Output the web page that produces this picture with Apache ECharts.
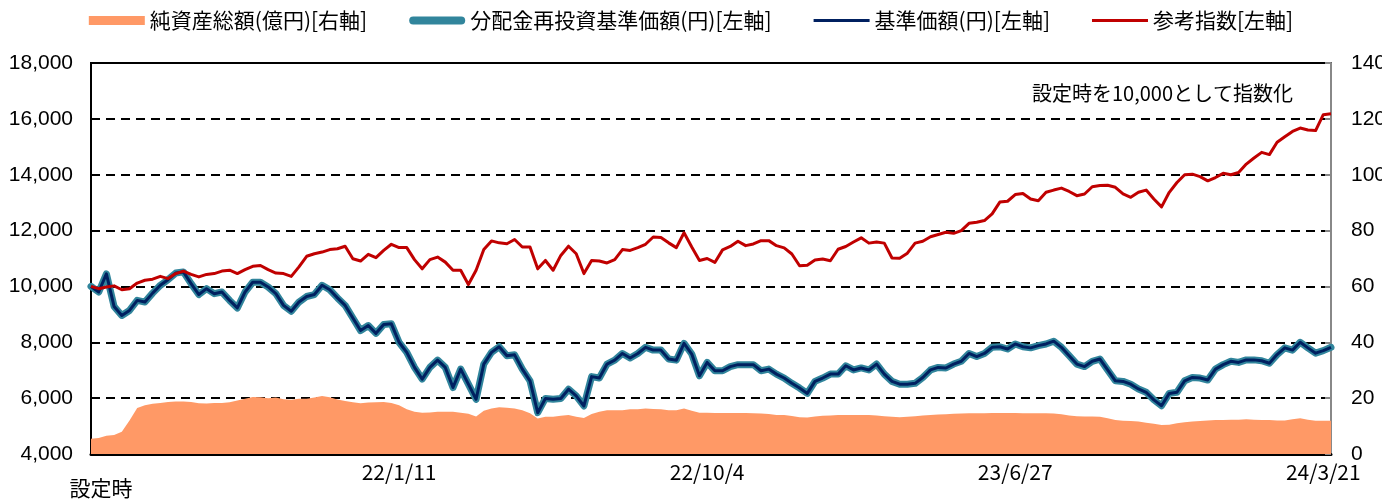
<!DOCTYPE html>
<html>
<head>
<meta charset="utf-8">
<script src="https://cdn.jsdelivr.net/npm/echarts@6/dist/echarts.min.js"></script>
<style>html,body{margin:0;padding:0;background:#fff}#c{width:1382px;height:500px}</style>
</head>
<body>
<div id="c"></div>
<script>
// --- data (weekly samples) ---
const tickIndex = [0, 40, 80, 120, 160];
const tickLabels = ['設定時', '22/1/11', '22/10/4', '23/6/27', '24/3/21'];

const navValues = [
10000,9800,10450,9280,8960,9140,9500,9440,9760,10040,
10240,10480,10520,10100,9710,9920,9740,9800,9500,9230,
9800,10150,10150,9980,9740,9320,9110,9440,9640,9710,
10040,9880,9590,9320,8870,8420,8600,8320,8640,8660,
8000,7640,7100,6680,7100,7360,7100,6380,7040,6500,
5960,7220,7640,7840,7520,7550,7040,6620,5480,5990,
5960,5990,6320,6080,5720,6770,6720,7220,7360,7600,
7440,7600,7820,7720,7720,7400,7360,7960,7580,6800,
7280,6980,6980,7130,7200,7200,7200,6980,7040,6860,
6720,6530,6360,6170,6600,6720,6860,6860,7160,7010,
7080,7010,7220,6860,6600,6500,6500,6530,6740,7010,
7100,7080,7220,7320,7600,7490,7600,7820,7840,7760,
7940,7840,7800,7880,7940,8040,7820,7520,7220,7130,
7320,7400,7010,6620,6600,6500,6330,6210,5940,5730,
6170,6210,6620,6740,6720,6650,7040,7200,7320,7280,
7370,7370,7340,7250,7560,7800,7720,8000,7800,7610,
7700,7820];

// no distributions were paid, so the reinvested NAV equals the NAV
const reinvestValues = navValues.slice();

const indexValues = [
10000,9920,9980,10020,9880,9920,10120,10220,10260,10360,
10280,10460,10550,10430,10340,10430,10460,10550,10580,10460,
10600,10720,10750,10600,10480,10460,10360,10700,11080,11170,
11230,11320,11350,11440,10990,10910,11150,11030,11290,11510,
11390,11390,10960,10630,10960,11050,10870,10580,10580,10070,
10580,11320,11630,11560,11530,11680,11410,11410,10630,10930,
10580,11110,11440,11170,10460,10930,10910,10840,10960,11320,
11290,11390,11510,11770,11750,11560,11390,11920,11410,10930,
11000,10860,11310,11430,11620,11460,11520,11640,11640,11460,
11380,11160,10740,10760,10950,10980,10920,11330,11430,11590,
11740,11550,11590,11550,11020,11010,11190,11550,11620,11780,
11860,11940,11900,12000,12260,12300,12360,12600,13020,13050,
13290,13330,13130,13070,13370,13450,13520,13400,13250,13310,
13570,13610,13620,13550,13310,13190,13370,13450,13130,12850,
13370,13720,14000,14020,13930,13780,13900,14050,14000,14080,
14380,14600,14800,14720,15160,15360,15550,15670,15600,15580,
16150,16180];

const assetValues = [
5.5,5.7,6.5,6.8,8.0,12.0,16.5,17.5,18.0,18.3,
18.6,18.8,18.8,18.6,18.2,18.1,18.3,18.3,18.5,19.2,
19.8,20.4,20.3,20.0,20.2,19.6,19.4,19.8,19.8,20.2,
20.8,20.3,19.5,19.0,18.5,18.2,18.4,18.5,18.6,18.3,
17.5,16.0,15.1,14.8,14.9,15.1,15.1,15.1,14.8,14.4,
13.4,15.5,16.3,16.7,16.6,16.3,15.7,14.6,12.7,13.3,
13.3,13.7,14.0,13.3,12.9,14.3,15.1,15.7,15.7,15.7,
16.0,16.0,16.3,16.1,16.0,15.7,15.7,16.3,15.5,14.8,
14.8,14.7,14.7,14.7,14.7,14.7,14.6,14.5,14.3,14.0,
14.0,13.6,13.2,13.1,13.4,13.7,13.8,14.0,14.0,14.0,
14.0,14.0,13.8,13.5,13.3,13.2,13.3,13.5,13.8,14.0,
14.1,14.2,14.4,14.5,14.6,14.6,14.6,14.7,14.7,14.7,
14.7,14.6,14.6,14.6,14.6,14.5,14.2,13.8,13.5,13.4,
13.4,13.3,12.8,12.2,11.9,11.8,11.6,11.2,10.8,10.4,
10.5,11.0,11.4,11.6,11.8,12.0,12.2,12.2,12.3,12.3,
12.4,12.3,12.2,12.2,12.0,12.0,12.4,12.8,12.3,11.9,
11.9,11.9];

const categories = navValues.map((_, i) => String(i));

const FONT = "'Liberation Sans', 'Noto Sans CJK JP', sans-serif";
const JFONT = "'Noto Sans CJK JP', sans-serif";

const chart = echarts.init(document.getElementById('c'), null, {renderer: 'canvas'});
const isTick = (idx) => tickIndex.indexOf(idx) >= 0;

chart.setOption({
  animation: false,
  backgroundColor: '#fff',
  legend: {
    top: 5,
    left: 'center',
    itemGap: 42,
    itemWidth: 56,
    itemHeight: 14,
    textStyle: {fontFamily: JFONT, fontSize: 21, color: '#000'},
    data: [
      {name: '純資産総額(億円)[右軸]', icon: 'path://M0,0L56,0L56,9L0,9Z', itemStyle: {color: '#FF9966'}},
      {name: '分配金再投資基準価額(円)[左軸]', icon: 'path://M4,0L52,0A4,4,0,0,1,52,8L4,8A4,4,0,0,1,4,0Z', itemStyle: {color: '#31859C'}},
      {name: '基準価額(円)[左軸]', icon: 'path://M0,0L56,0L56,3L0,3Z', itemStyle: {color: '#002060'}},
      {name: '参考指数[左軸]', icon: 'path://M0,0L56,0L56,3L0,3Z', itemStyle: {color: '#C00000'}}
    ]
  },
  grid: {left: 91, right: 51, top: 63, bottom: 46, outerBoundsMode: 'none', containLabel: false,
    show: true, borderColor: '#000', borderWidth: 2, backgroundColor: 'transparent'},
  xAxis: {
    type: 'category',
    data: categories,
    boundaryGap: false,
    axisLine: {lineStyle: {color: '#000', width: 3}},
    axisTick: {inside: true, length: 6, interval: (idx) => isTick(idx), lineStyle: {color: '#000', width: 2}},
    axisLabel: {
      interval: (idx) => isTick(idx),
      margin: 8,
      color: '#000',
      fontFamily: JFONT,
      fontSize: 21,
      formatter: (v) => {
        const k = tickIndex.indexOf(Number(v));
        if (k === 0) return '{s|' + tickLabels[0] + '}';
        return k > 0 ? tickLabels[k] : '';
      },
      rich: {s: {fontFamily: JFONT, fontSize: 21, color: '#000', padding: [16, 0, 0, 20]}}
    },
    splitLine: {show: false}
  },
  yAxis: [
    {
      type: 'value', min: 4000, max: 18000, interval: 2000, position: 'left',
      axisLine: {show: true, lineStyle: {color: '#000', width: 2}},
      axisTick: {show: false},
      axisLabel: {color: '#000', fontFamily: FONT, fontSize: 21, margin: 18,
        formatter: (v) => v.toLocaleString('en-US')},
      splitLine: {show: true, lineStyle: {color: '#000', width: 2, type: [9, 6]}}
    },
    {
      type: 'value', min: 0, max: 140, interval: 20, position: 'right',
      axisLine: {show: true, lineStyle: {color: '#888', width: 2}},
      axisTick: {show: true, inside: true, length: 6, lineStyle: {color: '#888', width: 2}},
      axisLabel: {color: '#000', fontFamily: FONT, fontSize: 21, margin: 20},
      splitLine: {show: false}
    }
  ],
  graphic: [{
    type: 'text', left: 1032, top: 83,
    style: {text: '設定時を10,000として指数化', fontFamily: JFONT, fontSize: 20, fill: '#000'}
  }],
  series: [
    {
      name: '純資産総額(億円)[右軸]', type: 'line', yAxisIndex: 1, data: assetValues,
      symbol: 'none', lineStyle: {width: 0, color: '#FF9966'}, itemStyle: {color: '#FF9966'},
      areaStyle: {color: '#FF9966', opacity: 1}, z: 1
    },
    {
      name: '分配金再投資基準価額(円)[左軸]', type: 'line', yAxisIndex: 0, data: reinvestValues,
      symbol: 'none', lineStyle: {width: 7, color: '#31859C', cap: 'round', join: 'round'}, itemStyle: {color: '#31859C'}, z: 2
    },
    {
      name: '基準価額(円)[左軸]', type: 'line', yAxisIndex: 0, data: navValues,
      symbol: 'none', lineStyle: {width: 3, color: '#002060', join: 'round'}, itemStyle: {color: '#002060'}, z: 3
    },
    {
      name: '参考指数[左軸]', type: 'line', yAxisIndex: 0, data: indexValues,
      symbol: 'none', lineStyle: {width: 3, color: '#C00000', join: 'round'}, itemStyle: {color: '#C00000'}, z: 4
    }
  ]
});
</script>
</body>
</html>
